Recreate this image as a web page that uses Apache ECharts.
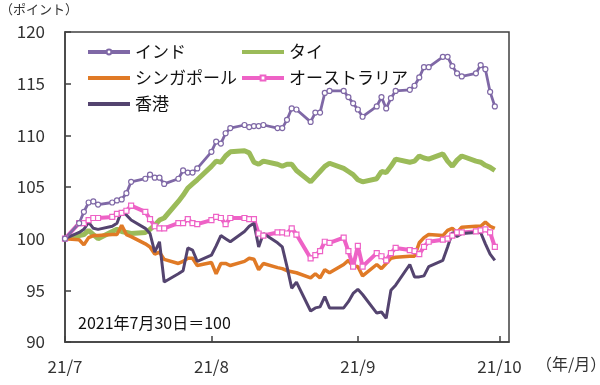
<!DOCTYPE html>
<html><head><meta charset="utf-8">
<script src="https://cdn.jsdelivr.net/npm/echarts@6/dist/echarts.min.js"></script>
<style>html,body{margin:0;padding:0;background:#fff}#c{width:600px;height:385px}</style>
</head><body><div id="c"></div>
<script>
const dates = ['2021-07-30',
 '2021-08-02','2021-08-03','2021-08-04','2021-08-05','2021-08-06','2021-08-09','2021-08-10','2021-08-11','2021-08-12','2021-08-13',
 '2021-08-16','2021-08-17','2021-08-18','2021-08-19','2021-08-20','2021-08-23','2021-08-24','2021-08-25','2021-08-26','2021-08-27',
 '2021-08-30','2021-08-31',
 '2021-09-01','2021-09-02','2021-09-03','2021-09-06','2021-09-07','2021-09-08','2021-09-09','2021-09-10','2021-09-13','2021-09-14',
 '2021-09-15','2021-09-16','2021-09-17','2021-09-20','2021-09-21','2021-09-22','2021-09-23','2021-09-24','2021-09-27','2021-09-28',
 '2021-09-29','2021-09-30',
 '2021-10-01','2021-10-04','2021-10-05','2021-10-06','2021-10-07','2021-10-08','2021-10-11','2021-10-12','2021-10-13','2021-10-14',
 '2021-10-15','2021-10-18','2021-10-19','2021-10-20','2021-10-21','2021-10-22','2021-10-25','2021-10-26','2021-10-27','2021-10-28',
 '2021-10-29'];

const india = [100.0,
 101.5,102.6,103.5,103.6,103.3,103.5,103.7,103.8,104.4,105.5,105.8,106.2,105.9,105.9,105.3,105.8,106.6,106.4,106.4,106.8,108.4,109.4,
 109.2,110.2,110.7,111.0,110.8,110.9,110.9,111.0,110.7,110.7,111.5,112.6,112.5,111.3,112.2,112.2,114.1,114.3,114.3,113.7,113.1,112.5,
 111.8,112.8,113.7,112.6,113.6,114.3,114.4,114.8,115.6,116.6,116.6,117.6,117.6,116.7,116.0,115.7,116.0,116.8,116.4,114.2,112.8];

const thai = [100.0,
 100.3,100.4,100.8,100.4,100.0,100.7,100.9,100.7,100.6,100.5,100.6,100.9,101.3,101.8,102.0,103.6,104.2,104.9,105.3,105.7,107.0,107.5,
 107.4,108.0,108.4,108.5,108.3,107.4,107.2,107.5,107.2,107.0,107.2,107.2,106.6,105.5,106.0,106.5,107.0,107.3,106.8,106.5,106.2,105.7,
 105.5,105.8,106.5,106.4,107.0,107.7,107.4,107.5,108.0,107.8,107.7,108.2,107.5,107.0,107.6,108.0,107.5,107.4,107.1,106.9,106.6];

const singapore = [100.0,
 99.9,99.4,100.1,100.3,100.3,100.4,100.4,101.3,100.4,100.2,99.5,99.2,98.5,98.7,98.0,97.6,97.8,98.1,98.1,97.4,97.7,96.6,
 97.6,97.6,97.4,97.8,98.1,98.0,97.0,97.6,97.2,97.1,96.9,96.8,96.7,96.2,96.6,96.2,97.0,96.7,97.5,97.9,97.3,97.3,
 96.4,97.5,97.1,97.6,98.1,98.2,98.3,98.3,99.6,100.1,100.4,100.3,100.8,101.0,100.6,101.1,101.2,101.2,101.6,101.2,101.0];

const australia = [100.0,
 101.5,101.5,101.8,102.0,102.0,102.1,102.4,102.5,102.7,103.2,102.6,101.9,101.2,101.0,101.0,101.5,101.5,101.9,101.5,101.4,101.8,102.1,
 102.0,101.4,102.0,102.0,101.9,101.9,100.5,100.3,100.6,100.6,100.5,101.0,100.4,98.1,98.4,98.8,99.7,99.6,100.1,98.8,97.3,99.3,
 97.3,98.6,98.3,97.9,98.6,99.1,98.9,98.8,98.5,99.2,99.7,99.9,100.0,100.3,100.6,100.6,100.7,100.8,100.9,100.6,99.2];

const hongkong = [100.0,
 100.6,100.9,101.6,101.0,100.9,101.2,101.5,102.7,102.3,101.8,101.0,100.5,98.7,99.7,95.8,96.6,96.9,99.1,98.9,97.8,98.4,99.3,
 100.3,100.0,99.7,100.7,101.2,101.5,99.2,100.5,99.6,99.2,97.3,95.2,95.8,93.0,93.3,93.4,94.4,93.3,93.3,93.9,94.7,95.1,
 94.6,92.8,92.9,92.3,95.0,95.5,97.5,96.3,96.3,96.4,97.3,97.9,99.2,100.6,100.2,100.5,100.6,100.6,99.5,98.5,97.9];

const names = ['インド','タイ','シンガポール','オーストラリア','香港'];
const tickDates = ['2021-07-30','2021-08-30','2021-09-30','2021-10-30'];
const tickLabels = ['21/7','21/8','21/9','21/10'];
const axisEndDate = '2021-11-01';
const yTicks = [90, 120, 5];

const base = Date.parse(dates[0]);
const day = d => Math.round((Date.parse(d) - base) / 864e5);
const pts = arr => dates.map((d, i) => [day(d), arr[i]]);
const tickDays = tickDates.map(day);

const FONT = "'Noto Sans CJK JP', 'Noto Sans', sans-serif";
const AX = '#404040';
const noMark = {opacity: 0};
const legendText = {fontSize: 17, color: '#111', fontFamily: FONT, lineHeight: 20};

const chart = echarts.init(document.getElementById('c'), null, {renderer: 'canvas'});
chart.setOption({
  animation: false,
  textStyle: {fontFamily: FONT},
  grid: {left: 65, right: 91, top: 32, bottom: 43, show: true, borderColor: AX, borderWidth: 1.5, backgroundColor: 'transparent'},
  xAxis: {
    type: 'value', min: 0, max: day(axisEndDate),
    axisLine: {lineStyle: {color: AX, width: 1.5}},
    splitLine: {show: false},
    axisTick: {inside: true, length: 6, lineStyle: {color: AX, width: 1.5}, customValues: tickDays},
    axisLabel: {customValues: tickDays, margin: 16, fontSize: 17, color: '#333', fontFamily: FONT,
      formatter: v => { const k = tickDays.indexOf(v); return k >= 0 ? tickLabels[k] : ''; }}
  },
  yAxis: {
    type: 'value', min: yTicks[0], max: yTicks[1], interval: yTicks[2],
    axisLine: {show: true, lineStyle: {color: AX, width: 1.5}},
    splitLine: {show: false},
    axisTick: {show: true, inside: true, length: 6, lineStyle: {color: AX, width: 1.5}},
    axisLabel: {margin: 20, fontSize: 17, color: '#333', fontFamily: FONT}
  },
  legend: [
    {data: [{name: names[0]}, {name: names[2], itemStyle: noMark}, {name: names[4], itemStyle: noMark}],
     orient: 'vertical', left: 81, top: 37, itemWidth: 42, itemHeight: 6, itemGap: 6,
     lineStyle: {width: 4}, selectedMode: false, textStyle: legendText},
    {data: [{name: names[1], itemStyle: noMark}, {name: names[3]}],
     orient: 'vertical', left: 235, top: 37, itemWidth: 42, itemHeight: 6, itemGap: 6,
     lineStyle: {width: 4}, selectedMode: false, textStyle: legendText}
  ],
  graphic: [
    {type: 'text', left: 0, top: 3, style: {text: '（ポイント）', fontSize: 13, fill: '#333', fontFamily: FONT}},
    {type: 'text', left: 536, top: 356, style: {text: '（年/月）', fontSize: 16, fill: '#333', fontFamily: FONT}},
    {type: 'text', left: 78, top: 315, style: {text: '2021年7月30日＝100', fontSize: 16, fill: '#111', fontFamily: FONT}}
  ],
  series: [
    {name: names[1], type: 'line', data: pts(thai), symbol: 'none', color: '#9BBB59', lineStyle: {width: 5, color: '#9BBB59'}},
    {name: names[2], type: 'line', data: pts(singapore), symbol: 'none', color: '#E07A26', lineStyle: {width: 3.5, color: '#E07A26'}},
    {name: names[3], type: 'line', data: pts(australia), symbol: 'rect', symbolSize: 5, color: '#EE62C6',
     lineStyle: {width: 4, color: '#EE62C6'}, itemStyle: {color: '#fff', borderColor: '#EE62C6', borderWidth: 1.2}},
    {name: names[4], type: 'line', data: pts(hongkong), symbol: 'none', color: '#54446F', lineStyle: {width: 3, color: '#54446F'}},
    {name: names[0], type: 'line', data: pts(india), symbol: 'circle', symbolSize: 5, color: '#7F68A6',
     lineStyle: {width: 2.8, color: '#7F68A6'}, itemStyle: {color: '#fff', borderColor: '#7F68A6', borderWidth: 1.2}}
  ]
});
</script></body></html>
